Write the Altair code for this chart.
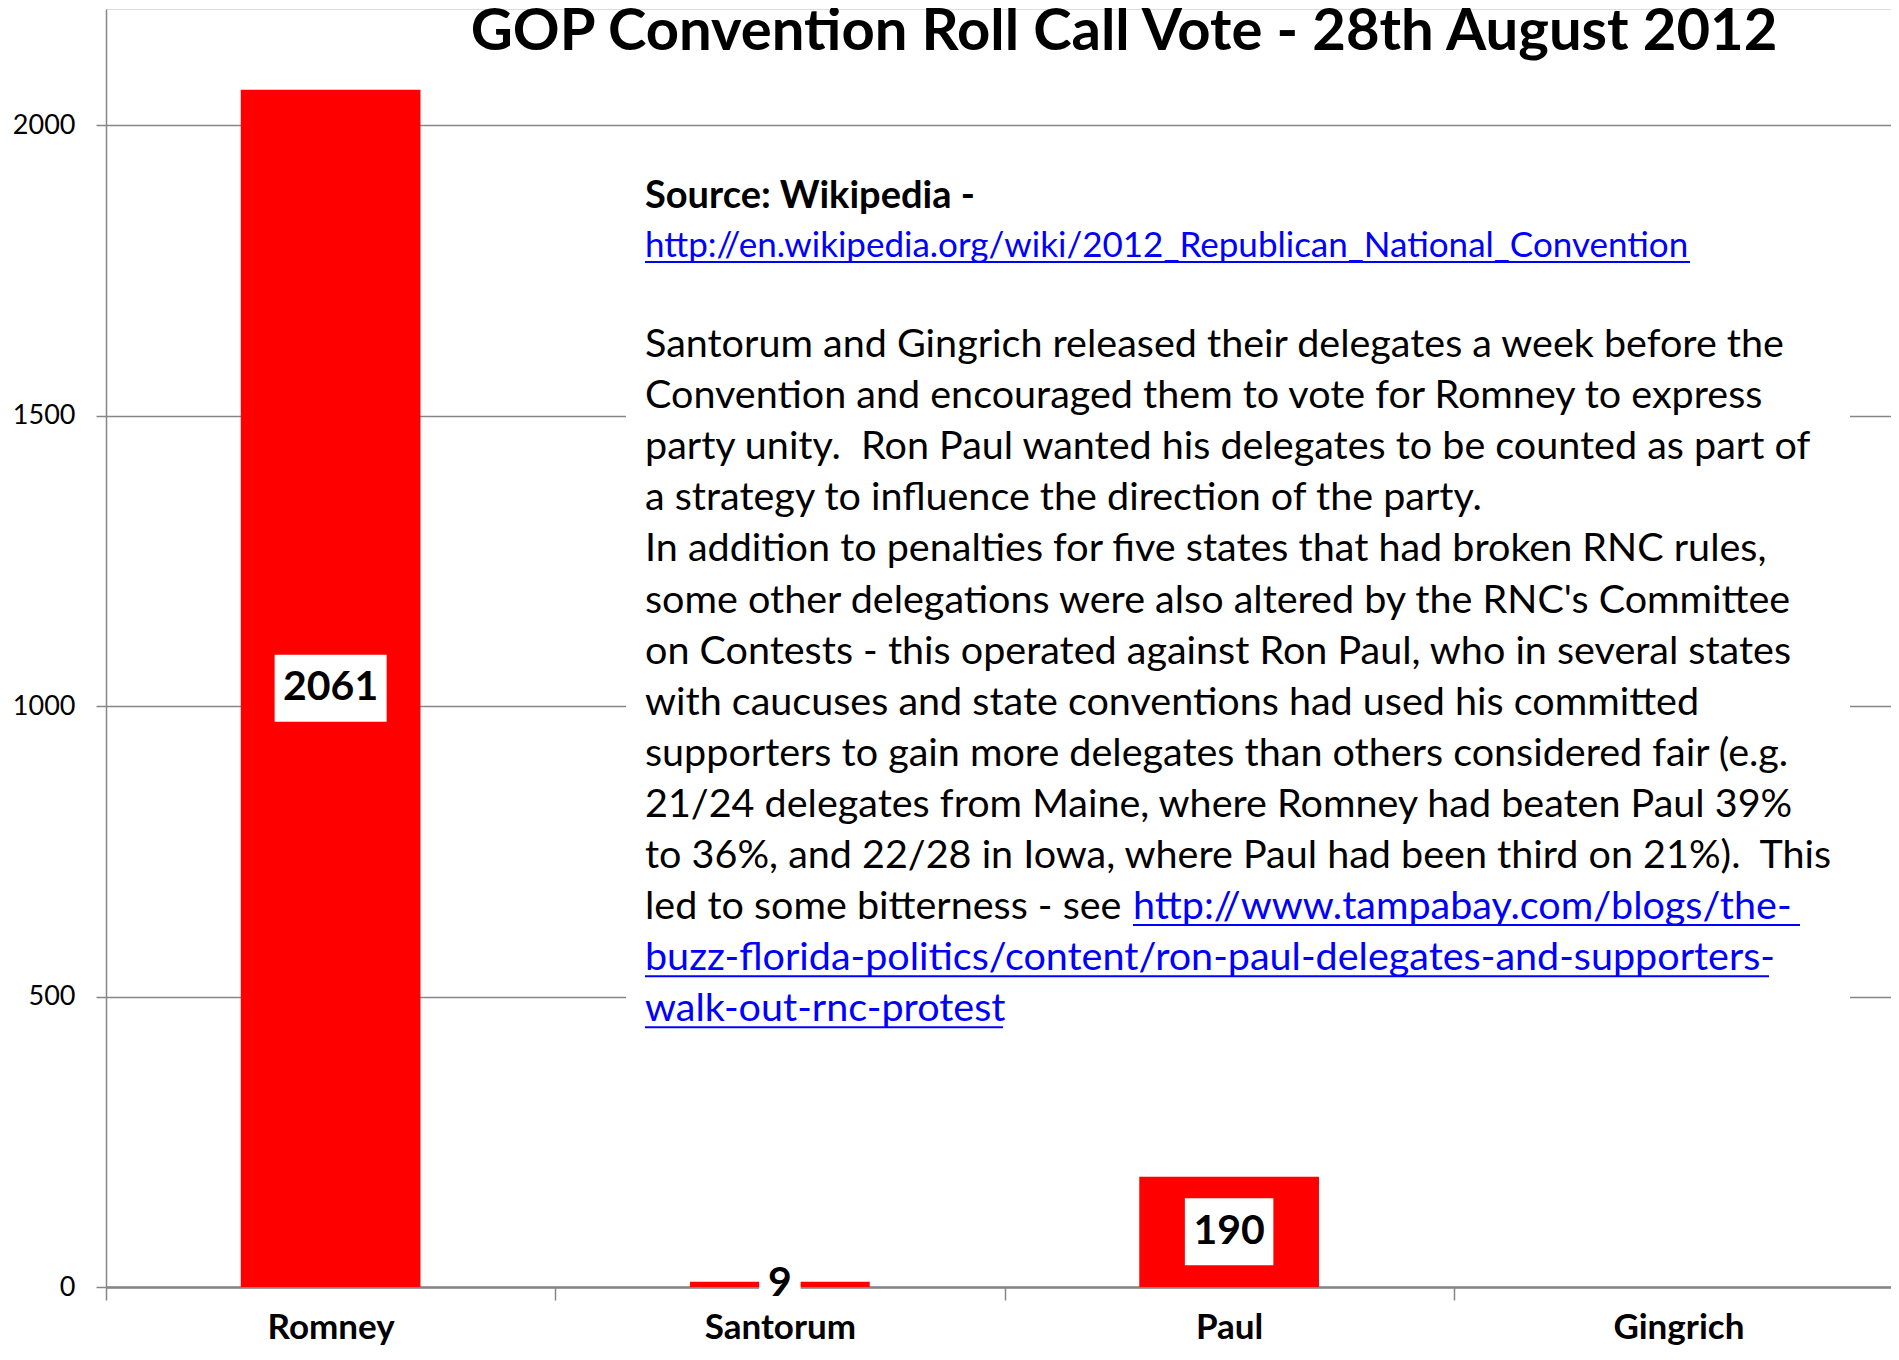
import altair as alt
import pandas as pd

# ---------------- data ----------------
candidates = ["Romney", "Santorum", "Paul", "Gingrich"]
votes = [2061, 9, 190, 0]

title_text = "GOP Convention Roll Call Vote - 28th August 2012"
source_label = "Source: Wikipedia -"
source_url = "http://en.wikipedia.org/wiki/2012_Republican_National_Convention"
body_lines = [
    "Santorum and Gingrich released their delegates a week before the",
    "Convention and encouraged them to vote for Romney to express",
    "party unity.\u00a0 Ron Paul wanted his delegates to be counted as part of",
    "a strategy to influence the direction of the party.",
    "In addition to penalties for five states that had broken RNC rules,",
    "some other delegations were also altered by the RNC's Committee",
    "on Contests - this operated against Ron Paul, who in several states",
    "with caucuses and state conventions had used his committed",
    "supporters to gain more delegates than others considered fair (e.g.",
    "21/24 delegates from Maine, where Romney had beaten Paul 39%",
    "to 36%, and 22/28 in Iowa, where Paul had been third on 21%).\u00a0 This",
    "led to some bitterness - see ",
]
link_lines = [
    "http://www.tampabay.com/blogs/the-",
    "buzz-florida-politics/content/ron-paul-delegates-and-supporters-",
    "walk-out-rnc-protest",
]
y_ticks = [0, 500, 1000, 1500, 2000]

# ---------------- layout / style ----------------
FONT = "Lato"
RED = "#FF0000"
GREY = "#868686"
BLUE = "#0000FF"
W, H = 1785, 1278
PX_PER_VOTE = H / 2200
TEXT_X = 539
BODY_Y0 = 336
LINE_H = 51.1
BODY_SIZE = 39.5
URL_SIZE = 35
SOURCE_SIZE = 38

df = pd.DataFrame({"Candidate": candidates, "Votes": votes})
df["mid"] = df["Votes"] / 2
df["label"] = df["Votes"].astype(str)


def box_path(w, h):
    r = h / w
    return f"M-1,-{r:.4f}H1V{r:.4f}H-1Z"


lab = df[df["Votes"] > 0].copy()
lab["bw"] = lab["label"].str.len() * 23.5 + 18
lab["bh"] = (lab["Votes"] * PX_PER_VOTE).clip(lower=20, upper=67)
lab["path"] = [box_path(w, h) for w, h in zip(lab["bw"], lab["bh"])]
lab["sz"] = lab["bw"] ** 2

xenc = alt.X(
    "Candidate:N",
    sort=candidates,
    scale=alt.Scale(range=[0, 1797], paddingInner=0, paddingOuter=0),
    axis=alt.Axis(
        labelAngle=0, labelFontSize=35, labelFontWeight="bold", labelColor="black",
        labelFont=FONT, tickBand="extent", tickSize=13, tickColor=GREY, tickWidth=1.5,
        domainColor=GREY, domainWidth=2.5, labelPadding=10, title=None, grid=False,
    ),
)
yscale = alt.Scale(domain=[0, 2200], nice=False)

bars = alt.Chart(df).mark_bar(color=RED, width={"band": 0.4}).encode(
    x=xenc,
    y=alt.Y(
        "Votes:Q", scale=yscale,
        axis=alt.Axis(
            values=y_ticks, format="d", grid=True, gridColor=GREY, gridWidth=1.5,
            domainColor=GREY, domainWidth=1.5, tickColor=GREY, tickWidth=1.5,
            tickSize=10, labelFontSize=27, labelColor="black", labelFont=FONT,
            labelPadding=21, title=None,
        ),
    ),
)

boxes = alt.Chart(lab).mark_point(filled=True, color="white", opacity=1, strokeWidth=0).encode(
    x=alt.X("Candidate:N", sort=candidates),
    y=alt.Y("mid:Q", scale=yscale),
    shape=alt.Shape("path:N", scale=None),
    size=alt.Size("sz:Q", scale=None),
)

labels = alt.Chart(lab).mark_text(
    font=FONT, fontSize=41, fontWeight="bold", color="black", baseline="middle"
).encode(
    x=alt.X("Candidate:N", sort=candidates),
    y=alt.Y("mid:Q", scale=yscale),
    text="label:N",
)


def text_layer(txt, x, y, size, color="black", weight="normal", align="left", baseline="middle"):
    return alt.Chart(pd.DataFrame({"t": [txt]})).mark_text(
        font=FONT, fontSize=size, fontWeight=weight, color=color,
        align=align, baseline=baseline,
    ).encode(x=alt.value(x), y=alt.value(y), text="t:N")


def underline(x1, x2, y):
    return alt.Chart(pd.DataFrame({"u": [0]})).mark_rule(color=BLUE, strokeWidth=2).encode(
        x=alt.value(x1), x2=alt.value(x2), y=alt.value(y)
    )


layers = [bars]

# white annotation box
layers.append(
    alt.Chart(pd.DataFrame({"b": [0]})).mark_rect(color="white").encode(
        x=alt.value(520), x2=alt.value(1744), y=alt.value(141), y2=alt.value(1041)
    )
)
layers += [boxes, labels]

layers.append(text_layer(title_text, 1018, 41, 58, weight="bold", align="center", baseline="alphabetic"))
layers.append(text_layer(source_label, TEXT_X, 188, SOURCE_SIZE, weight="bold"))
layers.append(text_layer(source_url, TEXT_X, 237, URL_SIZE, color=BLUE))
layers.append(underline(TEXT_X, 1584, 253))

for i, line in enumerate(body_lines):
    layers.append(text_layer(line, TEXT_X, BODY_Y0 + LINE_H * i, BODY_SIZE))

y_led = BODY_Y0 + LINE_H * (len(body_lines) - 1)
link_pos = [(1027, y_led, 1694), (TEXT_X, y_led + LINE_H, 1663), (TEXT_X, y_led + 2 * LINE_H, 897)]
for txt, (lx, ly, lx2) in zip(link_lines, link_pos):
    layers.append(text_layer(txt, lx, ly, BODY_SIZE, color=BLUE))
    layers.append(underline(lx, lx2, ly + 18))

chart = alt.layer(*layers).properties(
    width=W, height=H,
    autosize=alt.AutoSizeParams(type="none"),
    padding={"left": 98, "top": 1, "right": 0, "bottom": 60},
    background="white",
).configure_view(strokeWidth=0).configure(font=FONT)

chart.save("out.html", embed_options={"renderer": "svg", "actions": False})
